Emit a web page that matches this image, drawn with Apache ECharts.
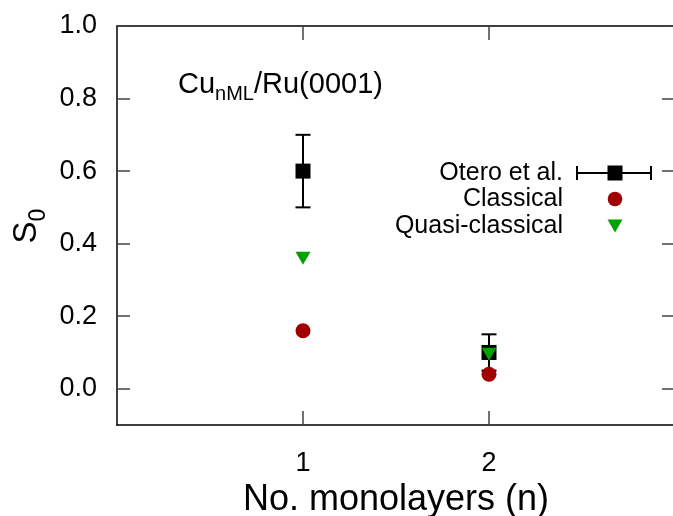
<!DOCTYPE html>
<html>
<head>
<meta charset="utf-8">
<script src="https://cdn.jsdelivr.net/npm/echarts@6/dist/echarts.min.js"></script>
<style>html,body{margin:0;padding:0;background:#fff}#c{width:673px;height:516px}</style>
</head>
<body>
<div id="c"></div>
<script>
// ---- data ----
var xTicks = [1, 2];
var yTicks = [0, 0.2, 0.4, 0.6, 0.8, 1.0];
var oteroX = [1, 2];
var oteroY = [0.60, 0.10];
var oteroLow = [0.50, 0.05];
var oteroHigh = [0.70, 0.15];
var classicalX = [1, 2];
var classicalY = [0.16, 0.04];
var quasiX = [1, 2];
var quasiY = [0.36, 0.095];
var legendNames = ['Otero et al.', 'Classical', 'Quasi-classical'];

var RED = '#a00000', GREEN = '#00a000';
var FONT = 'Liberation Sans, Arial, Helvetica, sans-serif';

var chart = echarts.init(document.getElementById('c'), null, {renderer: 'canvas'});

function zip(xs, ys) { return xs.map(function (x, i) { return [x, ys[i]]; }); }

var axisCommon = {
  type: 'value',
  splitLine: {show: false},
  axisLine: {show: true, onZero: false, lineStyle: {color: '#000', width: 1.5}},
  axisTick: {show: true, inside: true, lineStyle: {color: '#444', width: 1.5}}
};

var option = {
  animation: false,
  backgroundColor: '#fff',
  grid: {left: 117, top: 26, right: -2, bottom: 91, outerBoundsMode: 'none'},
  xAxis: [
    Object.assign({}, axisCommon, {
      position: 'bottom', min: 0, max: 3,
      axisTick: {show: true, inside: true, length: 14, customValues: xTicks, lineStyle: {color: '#444', width: 1.5}},
      axisLabel: {customValues: xTicks, fontSize: 27, fontFamily: FONT, color: '#000', margin: 25},
      name: 'No. monolayers (n)', nameLocation: 'middle', nameGap: 57,
      nameTextStyle: {fontSize: 36, fontFamily: FONT, color: '#000'}
    }),
    Object.assign({}, axisCommon, {
      position: 'top', min: 0, max: 3,
      axisTick: {show: true, inside: true, length: 14, customValues: xTicks, lineStyle: {color: '#444', width: 1.5}},
      axisLabel: {show: false}
    })
  ],
  yAxis: [
    Object.assign({}, axisCommon, {
      position: 'left', min: -0.1, max: 1.0,
      axisTick: {show: true, inside: true, length: 13, customValues: yTicks, lineStyle: {color: '#444', width: 1.5}},
      axisLabel: {customValues: yTicks, fontSize: 27, fontFamily: FONT, color: '#000', margin: 20,
        formatter: function (v) { return (+v).toFixed(1); }}
    }),
    Object.assign({}, axisCommon, {
      position: 'right', min: -0.1, max: 1.0,
      axisTick: {show: true, inside: true, length: 13, customValues: yTicks, lineStyle: {color: '#444', width: 1.5}},
      axisLabel: {show: false}
    })
  ],
  series: [
    {
      name: legendNames[0], type: 'custom', xAxisIndex: 0, yAxisIndex: 0,
      data: oteroX.map(function (x, i) { return [x, oteroY[i], oteroLow[i], oteroHigh[i]]; }),
      renderItem: function (params, api) {
        var x = api.value(0);
        var c = api.coord([x, api.value(1)]);
        var lo = api.coord([x, api.value(2)]);
        var hi = api.coord([x, api.value(3)]);
        var hw = 7.5, s = 15;
        var ls = {stroke: '#000', lineWidth: 2};
        return {type: 'group', children: [
          {type: 'line', shape: {x1: c[0], y1: lo[1], x2: c[0], y2: hi[1]}, style: ls},
          {type: 'line', shape: {x1: c[0] - hw, y1: lo[1], x2: c[0] + hw, y2: lo[1]}, style: ls},
          {type: 'line', shape: {x1: c[0] - hw, y1: hi[1], x2: c[0] + hw, y2: hi[1]}, style: ls},
          {type: 'rect', shape: {x: c[0] - s / 2, y: c[1] - s / 2, width: s, height: s}, style: {fill: '#000'}}
        ]};
      }
    },
    {
      name: legendNames[1], type: 'scatter', data: zip(classicalX, classicalY),
      symbol: 'circle', symbolSize: 15, itemStyle: {color: RED, opacity: 1}
    },
    {
      name: legendNames[2], type: 'scatter', data: zip(quasiX, quasiY),
      symbol: 'triangle', symbolRotate: 180, symbolSize: [15, 13], itemStyle: {color: GREEN, opacity: 1}
    }
  ],
  graphic: [
    // y-axis title S0 (rotated)
    {type: 'text', x: 27, y: 226, rotation: Math.PI / 2,
      style: {text: '{m|S}{s|0}', align: 'center', verticalAlign: 'middle',
        rich: {m: {fontSize: 33, fontFamily: FONT, fill: '#000', lineHeight: 46},
               s: {fontSize: 23, fontFamily: FONT, fill: '#000', lineHeight: 23, verticalAlign: 'bottom'}}}},
    // annotation
    {type: 'text', x: 178, y: 85,
      style: {text: '{m|Cu}{s|nML}{m|/Ru(0001)}', align: 'left', verticalAlign: 'middle',
        rich: {m: {fontSize: 29, fontFamily: FONT, fill: '#000', lineHeight: 38},
               s: {fontSize: 20, fontFamily: FONT, fill: '#000', lineHeight: 20, verticalAlign: 'bottom'}}}},
    // legend
    {type: 'text', x: 563, y: 173, style: {text: legendNames[0], align: 'right', verticalAlign: 'middle', fontSize: 25, fontFamily: FONT, fill: '#000'}},
    {type: 'text', x: 563, y: 199, style: {text: legendNames[1], align: 'right', verticalAlign: 'middle', fontSize: 25, fontFamily: FONT, fill: '#000'}},
    {type: 'text', x: 563, y: 226, style: {text: legendNames[2], align: 'right', verticalAlign: 'middle', fontSize: 25, fontFamily: FONT, fill: '#000'}},
    {type: 'line', shape: {x1: 577, y1: 173, x2: 651, y2: 173}, style: {stroke: '#000', lineWidth: 2}},
    {type: 'line', shape: {x1: 577, y1: 166, x2: 577, y2: 180}, style: {stroke: '#000', lineWidth: 2}},
    {type: 'line', shape: {x1: 651, y1: 166, x2: 651, y2: 180}, style: {stroke: '#000', lineWidth: 2}},
    {type: 'rect', shape: {x: 607.5, y: 165.5, width: 15, height: 15}, style: {fill: '#000'}},
    {type: 'circle', shape: {cx: 615, cy: 199, r: 7.3}, style: {fill: RED}},
    {type: 'polygon', shape: {points: [[607.5, 219.5], [622.5, 219.5], [615, 232.5]]}, style: {fill: GREEN}}
  ]
};
chart.setOption(option);
</script>
</body>
</html>
